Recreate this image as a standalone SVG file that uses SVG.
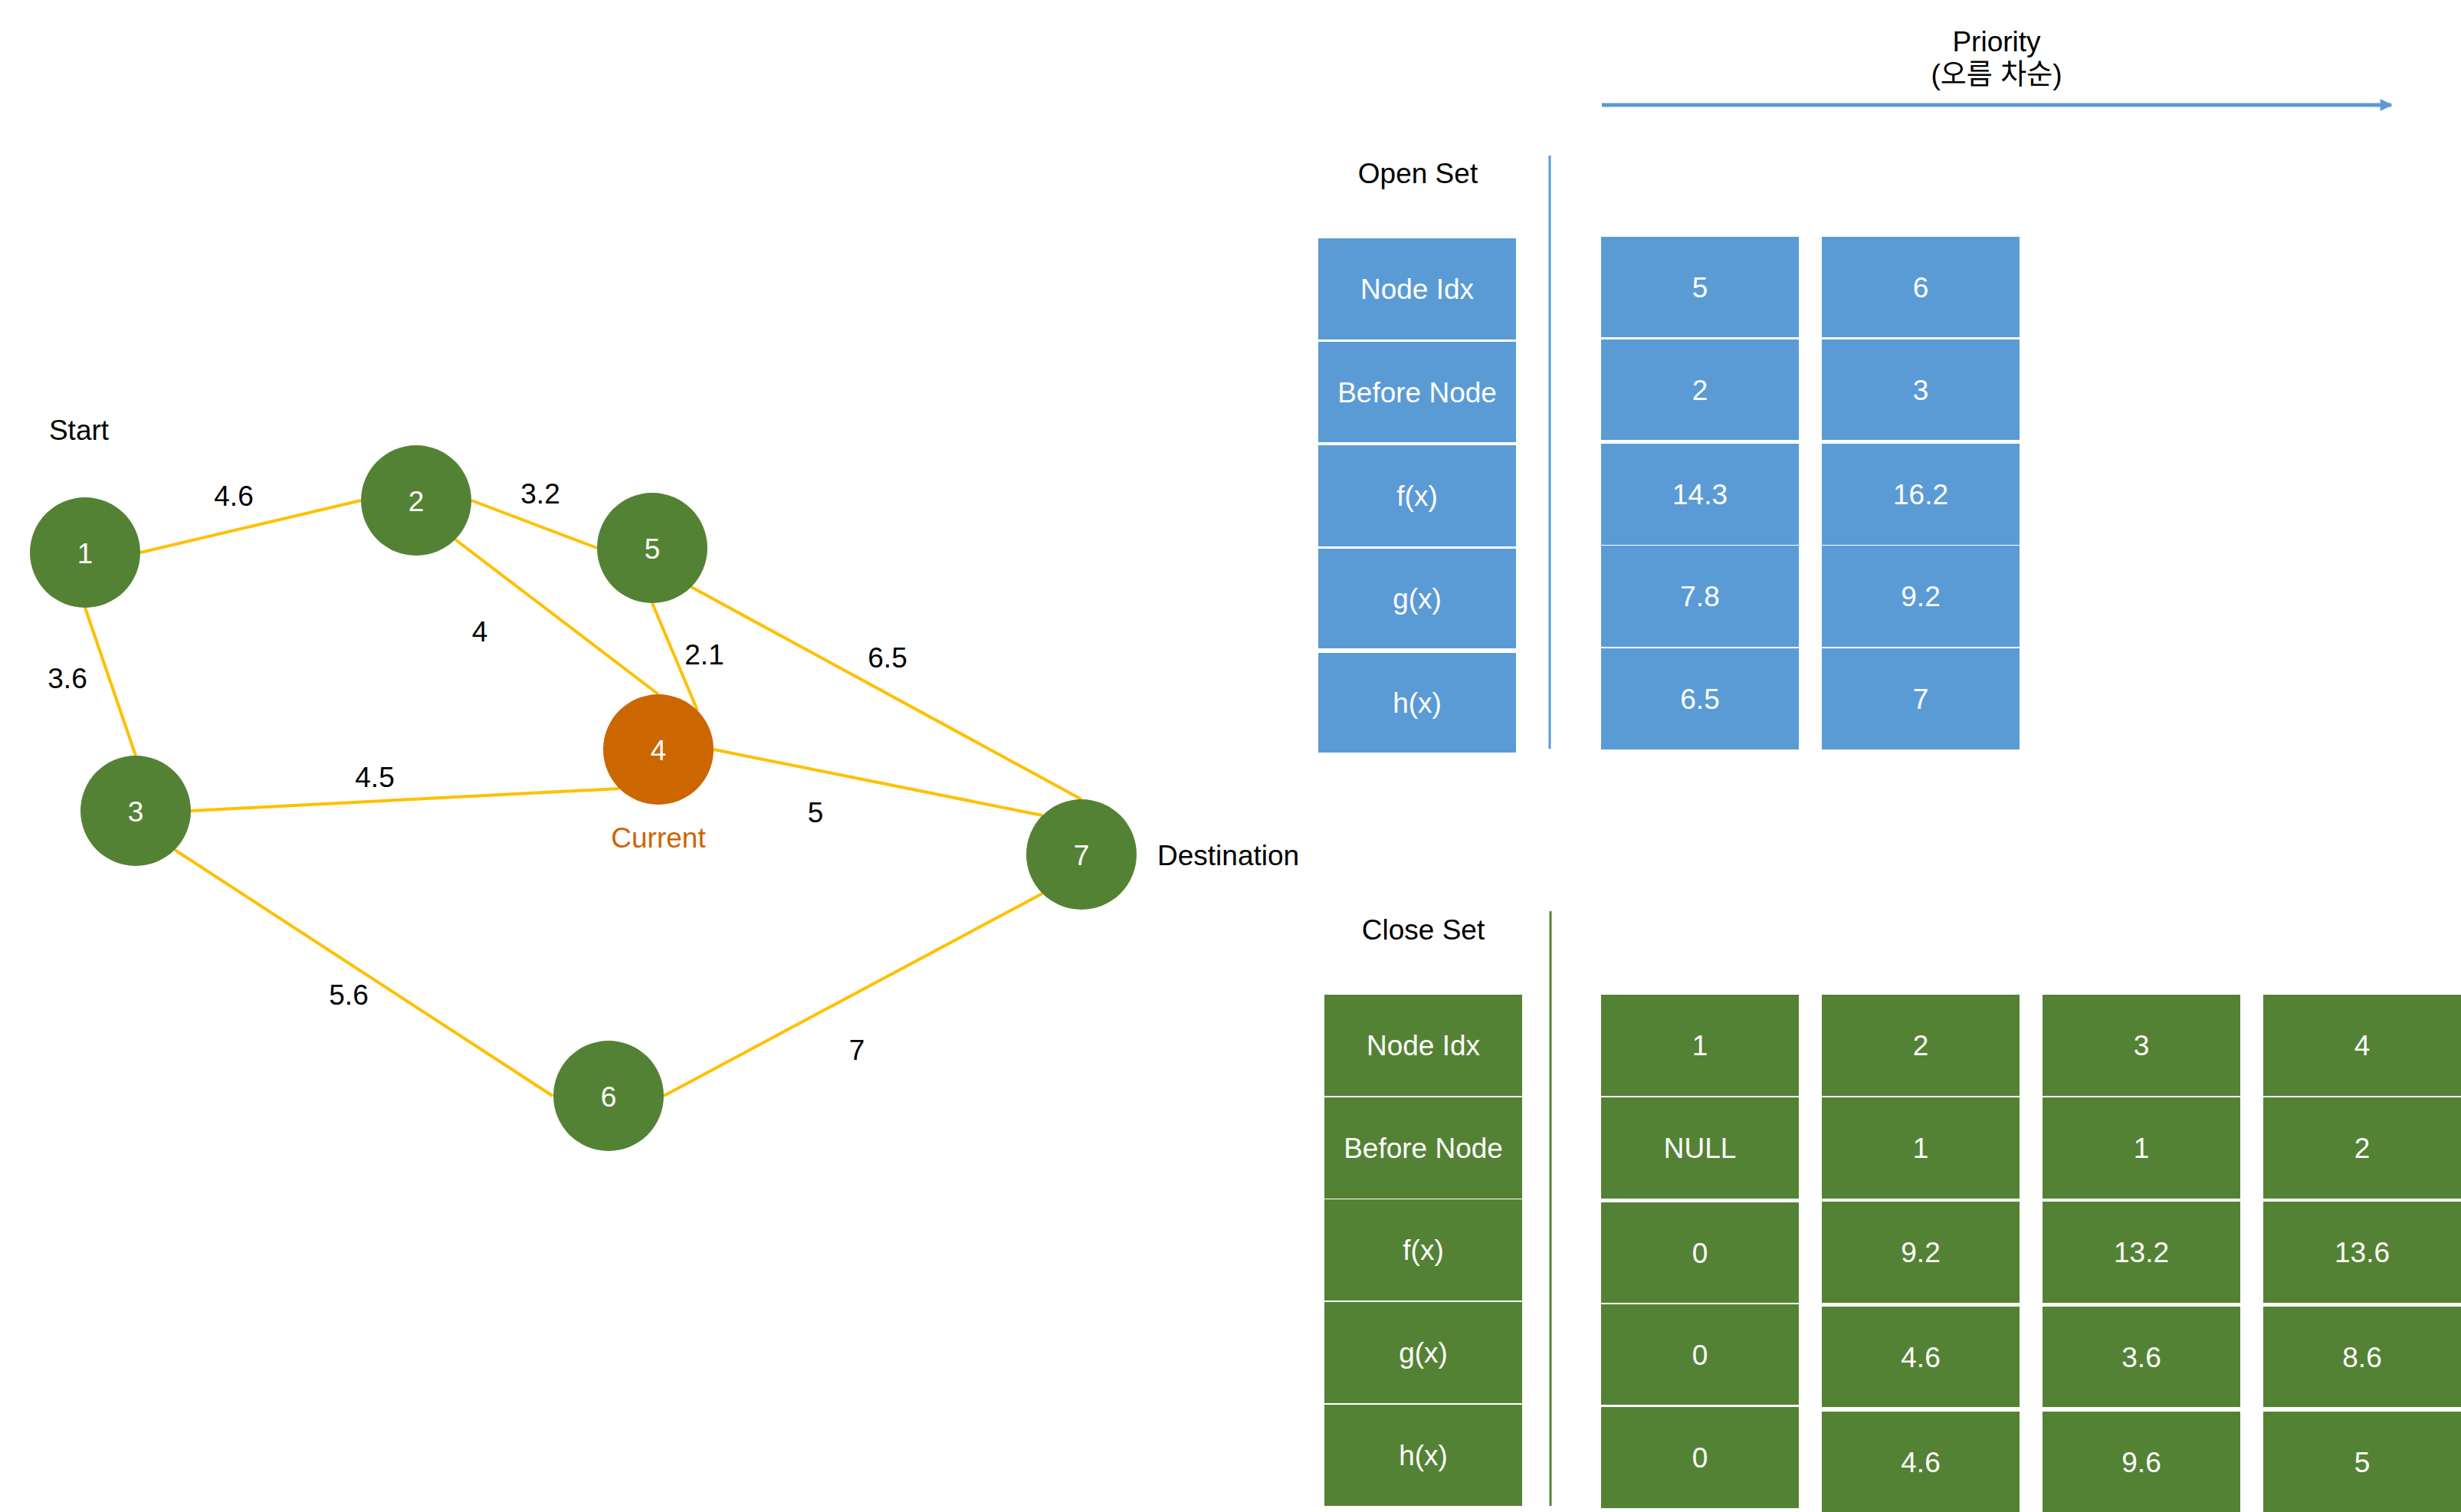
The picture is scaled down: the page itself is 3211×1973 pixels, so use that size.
<svg xmlns="http://www.w3.org/2000/svg" width="3211" height="1973" viewBox="0 0 3211 1973">
<style>
text{font-family:"Liberation Sans","Noto Sans CJK KR",sans-serif;font-size:37px;text-anchor:middle}
.dark{fill:#000}
.wt{fill:#fff}
.node{fill:#548235}
.cur{fill:#CC6600}
.edge{stroke:#FFC000;stroke-width:4;fill:none}
.ob{fill:#5B9BD5}
.cg{fill:#548235}
</style>
<defs>
<marker id="arr" viewBox="0 0 10 10" refX="9" refY="5" markerWidth="4" markerHeight="3.2" orient="auto" markerUnits="strokeWidth">
<path d="M0,0 L10,5 L0,10 z" fill="#5B9BD5"/>
</marker>
</defs>
<rect width="3211" height="1973" fill="#fff"/>
<g id="connectors">
<line class="edge" x1="183" y1="721" x2="471" y2="653"/>
<line class="edge" x1="111" y1="793" x2="177" y2="986"/>
<line class="edge" x1="615" y1="653" x2="779" y2="715"/>
<line class="edge" x1="594" y1="704" x2="859" y2="906"/>
<line class="edge" x1="851" y1="787" x2="910" y2="927"/>
<line class="edge" x1="902" y1="766" x2="1411" y2="1043"/>
<line class="edge" x1="249" y1="1058" x2="808" y2="1029"/>
<line class="edge" x1="931" y1="978" x2="1360" y2="1064"/>
<line class="edge" x1="228" y1="1109" x2="721" y2="1430"/>
<line class="edge" x1="866" y1="1430" x2="1360" y2="1166"/>
</g>
<g id="edge-labels">
<text class="dark" x="305" y="660">4.6</text>
<text class="dark" x="705" y="657">3.2</text>
<text class="dark" x="88" y="898">3.6</text>
<text class="dark" x="626" y="837">4</text>
<text class="dark" x="919" y="867">2.1</text>
<text class="dark" x="1158" y="871">6.5</text>
<text class="dark" x="489" y="1027">4.5</text>
<text class="dark" x="1064" y="1073">5</text>
<text class="dark" x="455" y="1311">5.6</text>
<text class="dark" x="1118" y="1383">7</text>
</g>
<g id="node-1"><circle class="node" cx="111" cy="721" r="72"/><text class="wt" x="111" y="735">1</text></g>
<g id="node-2"><circle class="node" cx="543" cy="653" r="72"/><text class="wt" x="543" y="667">2</text></g>
<g id="node-3"><circle class="node" cx="177" cy="1058" r="72"/><text class="wt" x="177" y="1072">3</text></g>
<g id="node-4"><circle class="cur" cx="859" cy="978" r="72"/><text class="wt" x="859" y="992">4</text></g>
<g id="node-5"><circle class="node" cx="851" cy="715" r="72"/><text class="wt" x="851" y="729">5</text></g>
<g id="node-6"><circle class="node" cx="794" cy="1430" r="72"/><text class="wt" x="794" y="1444">6</text></g>
<g id="node-7"><circle class="node" cx="1411" cy="1115" r="72"/><text class="wt" x="1411" y="1129">7</text></g>
<g id="annotations">
<text class="dark" x="103" y="574">Start</text>
<text x="859" y="1106" fill="#CC6600">Current</text>
<text class="dark" x="1510" y="1129" style="text-anchor:start">Destination</text>
</g>
<g id="priority">
<text class="dark" x="2605" y="67">Priority</text>
<text class="dark" x="2605" y="110">(오름 차순)</text>
<line x1="2090" y1="137" x2="3120" y2="137" stroke="#5B9BD5" stroke-width="5" marker-end="url(#arr)"/>
</g>
<g id="open-set">
<text class="dark" x="1850" y="239">Open Set</text>
<line x1="2022" y1="203" x2="2022" y2="977" stroke="#5B9BD5" stroke-width="3"/>
<g id="open-labels">
<rect class="ob" x="1720" y="311" width="258" height="132"/>
<rect class="ob" x="1720" y="446" width="258" height="131"/>
<rect class="ob" x="1720" y="581" width="258" height="132"/>
<rect class="ob" x="1720" y="716" width="258" height="130"/>
<rect class="ob" x="1720" y="852" width="258" height="130"/>
<text class="wt" x="1849" y="390">Node Idx</text>
<text class="wt" x="1849" y="525">Before Node</text>
<text class="wt" x="1849" y="660">f(x)</text>
<text class="wt" x="1849" y="794">g(x)</text>
<text class="wt" x="1849" y="930">h(x)</text>
</g>
<g id="open-col-1">
<rect class="ob" x="2089" y="309" width="258" height="131"/>
<rect class="ob" x="2089" y="443" width="258" height="131"/>
<rect class="ob" x="2089" y="579" width="258" height="132"/>
<rect class="ob" x="2089" y="712" width="258" height="132"/>
<rect class="ob" x="2089" y="846" width="258" height="132"/>
<text class="wt" x="2218" y="388">5</text>
<text class="wt" x="2218" y="522">2</text>
<text class="wt" x="2218" y="658">14.3</text>
<text class="wt" x="2218" y="791">7.8</text>
<text class="wt" x="2218" y="925">6.5</text>
</g>
<g id="open-col-2">
<rect class="ob" x="2377" y="309" width="258" height="131"/>
<rect class="ob" x="2377" y="443" width="258" height="131"/>
<rect class="ob" x="2377" y="579" width="258" height="132"/>
<rect class="ob" x="2377" y="712" width="258" height="132"/>
<rect class="ob" x="2377" y="846" width="258" height="132"/>
<text class="wt" x="2506" y="388">6</text>
<text class="wt" x="2506" y="522">3</text>
<text class="wt" x="2506" y="658">16.2</text>
<text class="wt" x="2506" y="791">9.2</text>
<text class="wt" x="2506" y="925">7</text>
</g>
</g>
<g id="close-set">
<text class="dark" x="1857" y="1226">Close Set</text>
<line x1="2023" y1="1189" x2="2023" y2="1965" stroke="#548235" stroke-width="3"/>
<g id="close-labels">
<rect class="cg" x="1728" y="1298" width="258" height="132"/>
<rect class="cg" x="1728" y="1432" width="258" height="132"/>
<rect class="cg" x="1728" y="1565" width="258" height="132"/>
<rect class="cg" x="1728" y="1699" width="258" height="132"/>
<rect class="cg" x="1728" y="1833" width="258" height="132"/>
<text class="wt" x="1857" y="1377">Node Idx</text>
<text class="wt" x="1857" y="1511">Before Node</text>
<text class="wt" x="1857" y="1644">f(x)</text>
<text class="wt" x="1857" y="1778">g(x)</text>
<text class="wt" x="1857" y="1912">h(x)</text>
</g>
<g id="close-col-1">
<rect class="cg" x="2089" y="1298" width="258" height="132"/>
<rect class="cg" x="2089" y="1432" width="258" height="132"/>
<rect class="cg" x="2089" y="1569" width="258" height="131"/>
<rect class="cg" x="2089" y="1702" width="258" height="131"/>
<rect class="cg" x="2089" y="1836" width="258" height="132"/>
<text class="wt" x="2218" y="1377">1</text>
<text class="wt" x="2218" y="1511">NULL</text>
<text class="wt" x="2218" y="1648">0</text>
<text class="wt" x="2218" y="1781">0</text>
<text class="wt" x="2218" y="1915">0</text>
</g>
<g id="close-col-2">
<rect class="cg" x="2377" y="1298" width="258" height="132"/>
<rect class="cg" x="2377" y="1432" width="258" height="132"/>
<rect class="cg" x="2377" y="1568" width="258" height="132"/>
<rect class="cg" x="2377" y="1705" width="258" height="131"/>
<rect class="cg" x="2377" y="1842" width="258" height="131"/>
<text class="wt" x="2506" y="1377">2</text>
<text class="wt" x="2506" y="1511">1</text>
<text class="wt" x="2506" y="1647">9.2</text>
<text class="wt" x="2506" y="1784">4.6</text>
<text class="wt" x="2506" y="1921">4.6</text>
</g>
<g id="close-col-3">
<rect class="cg" x="2665" y="1298" width="258" height="132"/>
<rect class="cg" x="2665" y="1432" width="258" height="132"/>
<rect class="cg" x="2665" y="1568" width="258" height="132"/>
<rect class="cg" x="2665" y="1705" width="258" height="131"/>
<rect class="cg" x="2665" y="1842" width="258" height="131"/>
<text class="wt" x="2794" y="1377">3</text>
<text class="wt" x="2794" y="1511">1</text>
<text class="wt" x="2794" y="1647">13.2</text>
<text class="wt" x="2794" y="1784">3.6</text>
<text class="wt" x="2794" y="1921">9.6</text>
</g>
<g id="close-col-4">
<rect class="cg" x="2953" y="1298" width="258" height="132"/>
<rect class="cg" x="2953" y="1432" width="258" height="132"/>
<rect class="cg" x="2953" y="1568" width="258" height="132"/>
<rect class="cg" x="2953" y="1705" width="258" height="131"/>
<rect class="cg" x="2953" y="1842" width="258" height="131"/>
<text class="wt" x="3082" y="1377">4</text>
<text class="wt" x="3082" y="1511">2</text>
<text class="wt" x="3082" y="1647">13.6</text>
<text class="wt" x="3082" y="1784">8.6</text>
<text class="wt" x="3082" y="1921">5</text>
</g>
</g>
</svg>
